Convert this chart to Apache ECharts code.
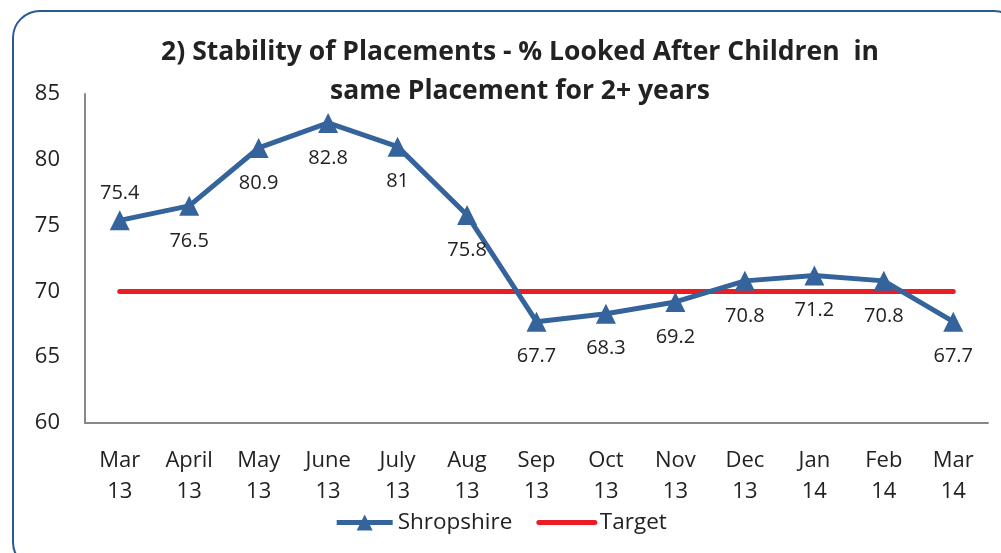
<!DOCTYPE html>
<html>
<head>
<meta charset="utf-8">
<script src="https://cdn.jsdelivr.net/npm/echarts@6/dist/echarts.min.js"></script>
<style>
  html, body { margin: 0; padding: 0; background: #fff; }
  .frame {
    position: absolute; left: 12px; top: 10px; width: 1010px; height: 560px;
    border: 2px solid #2a5a92; border-radius: 28px; box-sizing: border-box;
  }
  #chart { position: absolute; left: 0; top: 0; width: 1001px; height: 553px; }
</style>
</head>
<body>
<div class="frame"></div>
<div id="chart"></div>
<script>
  var months = ['Mar\n13', 'April\n13', 'May\n13', 'June\n13', 'July\n13', 'Aug\n13', 'Sep\n13',
                'Oct\n13', 'Nov\n13', 'Dec\n13', 'Jan\n14', 'Feb\n14', 'Mar\n14'];
  var shropshire = [75.4, 76.5, 80.9, 82.8, 81, 75.8, 67.7, 68.3, 69.2, 70.8, 71.2, 70.8, 67.7];
  var target = [70, 70, 70, 70, 70, 70, 70, 70, 70, 70, 70, 70, 70];
  // only the first label sits above the point
  var labelPos = ['top', 'bottom', 'bottom', 'bottom', 'bottom', 'bottom', 'bottom',
                  'bottom', 'bottom', 'bottom', 'bottom', 'bottom', 'bottom'];

  var font = '"Open Sans", "Noto Sans", sans-serif';
  var chart = echarts.init(document.getElementById('chart'));

  var option = {
    animation: false,
    textStyle: { fontFamily: font, color: '#222' },
    title: {
      text: '2) Stability of Placements - % Looked After Children  in\nsame Placement for 2+ years',
      left: 515, textAlign: 'center', top: 28,
      textStyle: { fontFamily: font, fontSize: 26.5, fontWeight: 'bold', color: '#222', lineHeight: 39 }
    },
    legend: {
      bottom: 14, left: 'center', itemWidth: 56, itemHeight: 20, itemGap: 24,
      textStyle: { fontFamily: font, fontSize: 22.5, color: '#222' },
      lineStyle: { width: 5 },
      data: [
        { name: 'Shropshire' },
        { name: 'Target', itemStyle: { opacity: 0 } }
      ]
    },
    grid: { left: 85, right: 13, top: 94, bottom: 130 },
    xAxis: {
      type: 'category', data: months, boundaryGap: true,
      axisLine: { lineStyle: { color: '#888', width: 2 } },
      axisTick: { show: false },
      axisLabel: { fontFamily: font, fontSize: 22, color: '#222', lineHeight: 31, margin: 22, interval: 0 }
    },
    yAxis: {
      type: 'value', min: 60, max: 85, interval: 5,
      axisLine: { show: true, lineStyle: { color: '#888', width: 2 } },
      axisTick: { show: false },
      splitLine: { show: false },
      axisLabel: { fontFamily: font, fontSize: 22, color: '#222', margin: 25 }
    },
    series: [
      {
        name: 'Shropshire', type: 'line', data: shropshire.map(function (v, i) {
          return { value: v, label: { position: labelPos[i], distance: labelPos[i] === 'top' ? 7 : 15 } };
        }),
        symbol: 'triangle', symbolSize: 20,
        lineStyle: { color: '#34649b', width: 5 },
        itemStyle: { color: '#34649b' },
        label: { show: true, fontFamily: font, fontSize: 20, color: '#222' },
        z: 3
      },
      {
        name: 'Target', type: 'line', data: target,
        symbol: 'none',
        lineStyle: { color: '#ec1c24', width: 5, cap: 'round' },
        itemStyle: { color: '#ec1c24' },
        z: 2
      }
    ]
  };

  chart.setOption(option);
</script>
</body>
</html>
